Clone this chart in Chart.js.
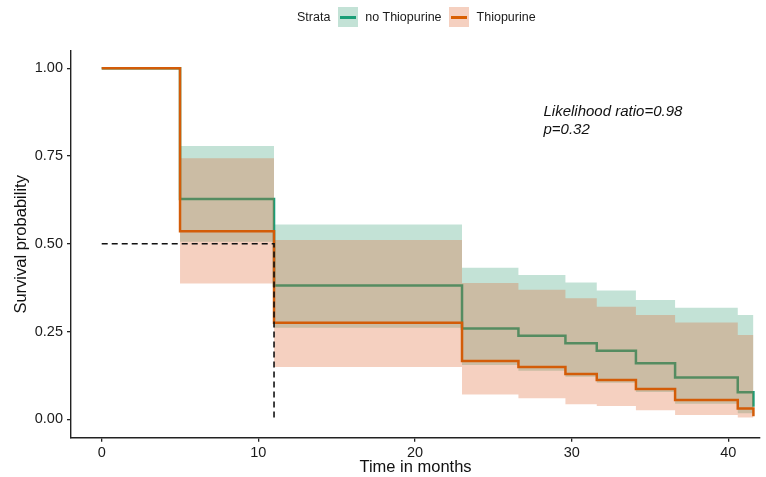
<!DOCTYPE html>
<html>
<head>
<meta charset="utf-8">
<script src="https://cdn.jsdelivr.net/npm/chart.js@4.4.1/dist/chart.umd.min.js"></script>
<style>
  html, body { margin: 0; padding: 0; background: #ffffff; }
  #wrap { position: relative; width: 766px; height: 477px; font-family: "Liberation Sans", Arial, sans-serif; }
  #legend { position: absolute; top: 7px; left: 297px; height: 20px; display: flex; align-items: center; font-size: 12.5px; color: #1a1a1a; white-space: nowrap; }
  .key { position: relative; width: 20px; height: 20px; }
  .key .ln { position: absolute; left: 2px; right: 2px; top: 9px; height: 2.5px; }
</style>
</head>
<body>
<div id="wrap">
  <canvas id="c" width="766" height="477"></canvas>
  <div id="legend">
    <span style="margin-right:8px">Strata</span>
    <div class="key" style="background:rgba(55,158,118,0.3)"><div class="ln" style="background:#1B9E77"></div></div>
    <span style="margin-left:7px;margin-right:7px">no Thiopurine</span>
    <div class="key" style="background:rgba(222,98,45,0.3)"><div class="ln" style="background:#D95F02"></div></div>
    <span style="margin-left:8px">Thiopurine</span>
  </div>
</div>
<script>
// ---- data ----
const times       = [0, 5, 11, 23, 26.6, 29.6, 31.6, 34.1, 36.6, 40.6, 41.6];
const noThio      = [1, 0.628, 0.381, 0.259, 0.238, 0.217, 0.195, 0.160, 0.119, 0.077, 0.036];
const noThioUpper = [1, 0.779, 0.555, 0.432, 0.411, 0.390, 0.367, 0.340, 0.318, 0.297, 0.297];
const noThioLower = [1, 0.506, 0.261, 0.155, 0.138, 0.121, 0.104, 0.078, 0.044, 0.017, 0.017];
const thio        = [1, 0.536, 0.275, 0.166, 0.149, 0.129, 0.112, 0.086, 0.055, 0.031, 0.009];
const thioUpper   = [1, 0.744, 0.511, 0.388, 0.369, 0.345, 0.321, 0.297, 0.276, 0.240, 0.240];
const thioLower   = [1, 0.387, 0.149, 0.071, 0.060, 0.043, 0.038, 0.026, 0.012, 0.005, 0.005];
const medianX     = [0, 11, 11];
const medianY     = [0.5, 0.5, 0];
const xTicks      = [0, 10, 20, 30, 40];
const yTicks      = [0, 0.25, 0.5, 0.75, 1];
const annotation  = { x: 28.2, y1: 0.876, y2: 0.824, line1: "Likelihood ratio=0.98", line2: "p=0.32" };

const pts = (xs, ys) => xs.map((x, i) => ({ x: x, y: ys[i] }));
const GREEN = '#1B9E77', ORANGE = '#D35C08';
const GREEN_BAND = 'rgba(55,158,118,0.3)', ORANGE_BAND = 'rgba(222,98,45,0.3)';
const FONT = '"Liberation Sans", Arial, sans-serif';

const annotPlugin = {
  id: 'annot',
  afterDatasetsDraw(chart) {
    const { ctx, scales: { x, y } } = chart;
    ctx.save();
    ctx.font = 'italic 15px ' + FONT;
    ctx.fillStyle = '#111';
    ctx.textAlign = 'left';
    ctx.textBaseline = 'middle';
    ctx.fillText(annotation.line1, x.getPixelForValue(annotation.x), y.getPixelForValue(annotation.y1));
    ctx.fillText(annotation.line2, x.getPixelForValue(annotation.x), y.getPixelForValue(annotation.y2));
    ctx.restore();
  }
};

const common = { pointRadius: 0, pointHoverRadius: 0, tension: 0 };

new Chart(document.getElementById('c'), {
  type: 'line',
  data: {
    datasets: [
      Object.assign({ label: 'noUpper', data: pts(times, noThioUpper), stepped: true, borderWidth: 0, borderColor: 'rgba(0,0,0,0)', fill: false, order: 10 }, common),
      Object.assign({ label: 'noLower', data: pts(times, noThioLower), stepped: true, borderWidth: 0, borderColor: 'rgba(0,0,0,0)', backgroundColor: GREEN_BAND, fill: 0, order: 9 }, common),
      Object.assign({ label: 'no Thiopurine', data: pts(times, noThio), stepped: true, borderWidth: 2.5, borderColor: GREEN, fill: false, order: 8 }, common),
      Object.assign({ label: 'thUpper', data: pts(times, thioUpper), stepped: true, borderWidth: 0, borderColor: 'rgba(0,0,0,0)', fill: false, order: 7 }, common),
      Object.assign({ label: 'thLower', data: pts(times, thioLower), stepped: true, borderWidth: 0, borderColor: 'rgba(0,0,0,0)', backgroundColor: ORANGE_BAND, fill: 3, order: 6 }, common),
      Object.assign({ label: 'Thiopurine', data: pts(times, thio), stepped: true, borderWidth: 2.5, borderColor: ORANGE, fill: false, order: 5 }, common),
      Object.assign({ label: 'median', data: pts(medianX, medianY), borderWidth: 1.6, borderColor: '#111', borderDash: [6, 4], fill: false, order: 1 }, common)
    ]
  },
  options: {
    responsive: false,
    animation: false,
    events: [],
    layout: { padding: { top: 51, right: 6, left: 0, bottom: 0 } },
    plugins: { legend: { display: false }, tooltip: { enabled: false } },
    scales: {
      x: {
        type: 'linear',
        min: -1.96,
        max: 42.02,
        afterBuildTicks: (s) => { s.ticks = xTicks.map(v => ({ value: v })); },
        afterFit: (s) => { s.height = 39.3; },
        grid: { display: true, drawOnChartArea: false, drawTicks: true, tickLength: 4, color: '#222', lineWidth: 1.3 },
        border: { display: true, color: '#222', width: 1.4 },
        ticks: { color: '#1a1a1a', font: { size: 14.5, family: FONT }, padding: 3, maxRotation: 0 },
        title: { display: true, text: 'Time in months', color: '#111', font: { size: 16.5, family: FONT }, padding: { top: 0, bottom: 0 } }
      },
      y: {
        type: 'linear',
        min: -0.0524,
        max: 1.0493,
        afterBuildTicks: (s) => { s.ticks = yTicks.map(v => ({ value: v })); },
        afterFit: (s) => { s.width = 71; },
        grid: { display: true, drawOnChartArea: false, drawTicks: true, tickLength: 4, color: '#222', lineWidth: 1.3 },
        border: { display: true, color: '#222', width: 1.4 },
        ticks: { color: '#1a1a1a', font: { size: 14.5, family: FONT }, padding: 4, callback: (v) => Number(v).toFixed(2) },
        title: { display: true, text: 'Survival probability', color: '#111', font: { size: 16.5, family: FONT }, padding: { top: 12, bottom: 0 } }
      }
    }
  },
  plugins: [annotPlugin]
});
</script>
</body>
</html>
